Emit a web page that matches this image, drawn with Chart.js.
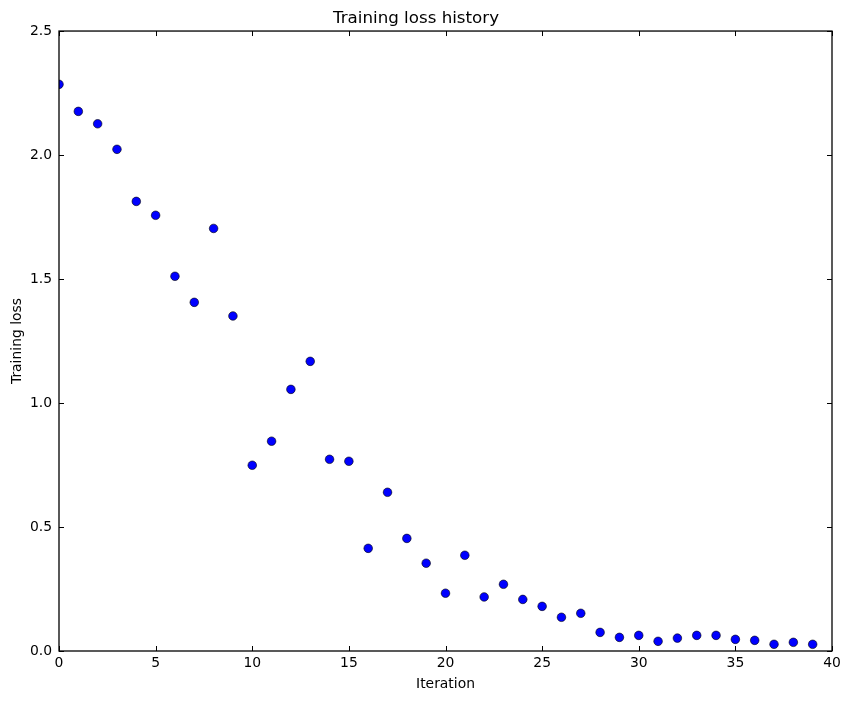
<!DOCTYPE html>
<html>
<head>
<meta charset="utf-8">
<script src="https://cdn.jsdelivr.net/npm/chart.js@4/dist/chart.umd.min.js"></script>
<style>
  html, body { margin: 0; padding: 0; background: #ffffff; }
  #wrap { width: 852px; height: 701px; position: relative; }
</style>
</head>
<body>
<div id="wrap"><canvas id="c"></canvas></div>
<script>
const iterations = [0,1,2,3,4,5,6,7,8,9,10,11,12,13,14,15,16,17,18,19,20,21,22,23,24,25,26,27,28,29,30,31,32,33,34,35,36,37,38,39];
const lossValues = [2.285,2.176,2.126,2.023,1.813,1.757,1.511,1.406,1.704,1.351,
                    0.749,0.846,1.055,1.168,0.773,0.765,0.414,0.640,0.454,0.354,
                    0.233,0.386,0.218,0.269,0.208,0.180,0.136,0.152,0.075,0.055,
                    0.063,0.039,0.052,0.063,0.063,0.047,0.043,0.027,0.035,0.027];
const xTicks = [0,5,10,15,20,25,30,35,40];
const yTicks = [0.0,0.5,1.0,1.5,2.0,2.5];

const FONT = "'DejaVu Sans', sans-serif";

const framePlugin = {
  id: 'frame',
  afterDatasetsDraw(chart) {
    const { ctx, chartArea: a, scales } = chart;
    ctx.save();
    ctx.strokeStyle = '#000';
    ctx.lineWidth = 1;
    const L = 5;
    ctx.beginPath();
    xTicks.forEach(v => {
      const px = Math.round(scales.x.getPixelForValue(v)) + 0.5;
      ctx.moveTo(px, a.bottom); ctx.lineTo(px, a.bottom - L);
      ctx.moveTo(px, a.top); ctx.lineTo(px, a.top + L);
    });
    yTicks.forEach(v => {
      const py = Math.round(scales.y.getPixelForValue(v)) + 0.5;
      ctx.moveTo(a.left, py); ctx.lineTo(a.left + L, py);
      ctx.moveTo(a.right, py); ctx.lineTo(a.right - L, py);
    });
    ctx.stroke();
    ctx.lineWidth = 1.3;
    ctx.strokeRect(a.left, a.top, a.right - a.left, a.bottom - a.top);
    ctx.restore();
  }
};

new Chart(document.getElementById('c'), {
  type: 'scatter',
  data: {
    datasets: [{
      data: iterations.map((x, i) => ({ x: x, y: lossValues[i] })),
      backgroundColor: '#0000ff',
      borderColor: '#000000',
      borderWidth: 0.6,
      pointRadius: 4.3,
      pointHoverRadius: 4.3,
      clip: 0
    }]
  },
  options: {
    responsive: true,
    maintainAspectRatio: false,
    animation: false,
    events: [],
    layout: { padding: { left: 0, right: 20, top: 0, bottom: 0 } },
    plugins: {
      legend: { display: false },
      tooltip: { enabled: false },
      title: {
        display: true,
        text: 'Training loss history',
        color: '#000',
        font: { family: FONT, size: 16.7, weight: 'normal' },
        padding: { top: 9, bottom: 2 }
      }
    },
    scales: {
      x: {
        type: 'linear',
        min: 0, max: 40,
        afterBuildTicks(scale) { scale.ticks = xTicks.map(v => ({ value: v })); },
        afterFit(scale) { scale.height = 50; },
        grid: { display: false, drawTicks: false },
        border: { display: false },
        ticks: {
          color: '#000',
          font: { family: FONT, size: 13.9 },
          padding: 4,
          maxRotation: 0,
          autoSkip: false,
          callback: v => String(v)
        },
        title: {
          display: true,
          text: 'Iteration',
          color: '#000',
          font: { family: FONT, size: 13.9 },
          padding: { top: 0, bottom: 8 }
        }
      },
      y: {
        type: 'linear',
        min: 0, max: 2.5,
        afterBuildTicks(scale) { scale.ticks = yTicks.map(v => ({ value: v })); },
        afterFit(scale) { scale.width = 59; },
        grid: { display: false, drawTicks: false },
        border: { display: false },
        ticks: {
          color: '#000',
          font: { family: FONT, size: 13.9 },
          padding: 7,
          autoSkip: false,
          callback: v => Number(v).toFixed(1)
        },
        title: {
          display: true,
          text: 'Training loss',
          color: '#000',
          font: { family: FONT, size: 13.9 },
          padding: { top: 9, bottom: 0 }
        }
      }
    }
  },
  plugins: [framePlugin]
});
</script>
</body>
</html>
